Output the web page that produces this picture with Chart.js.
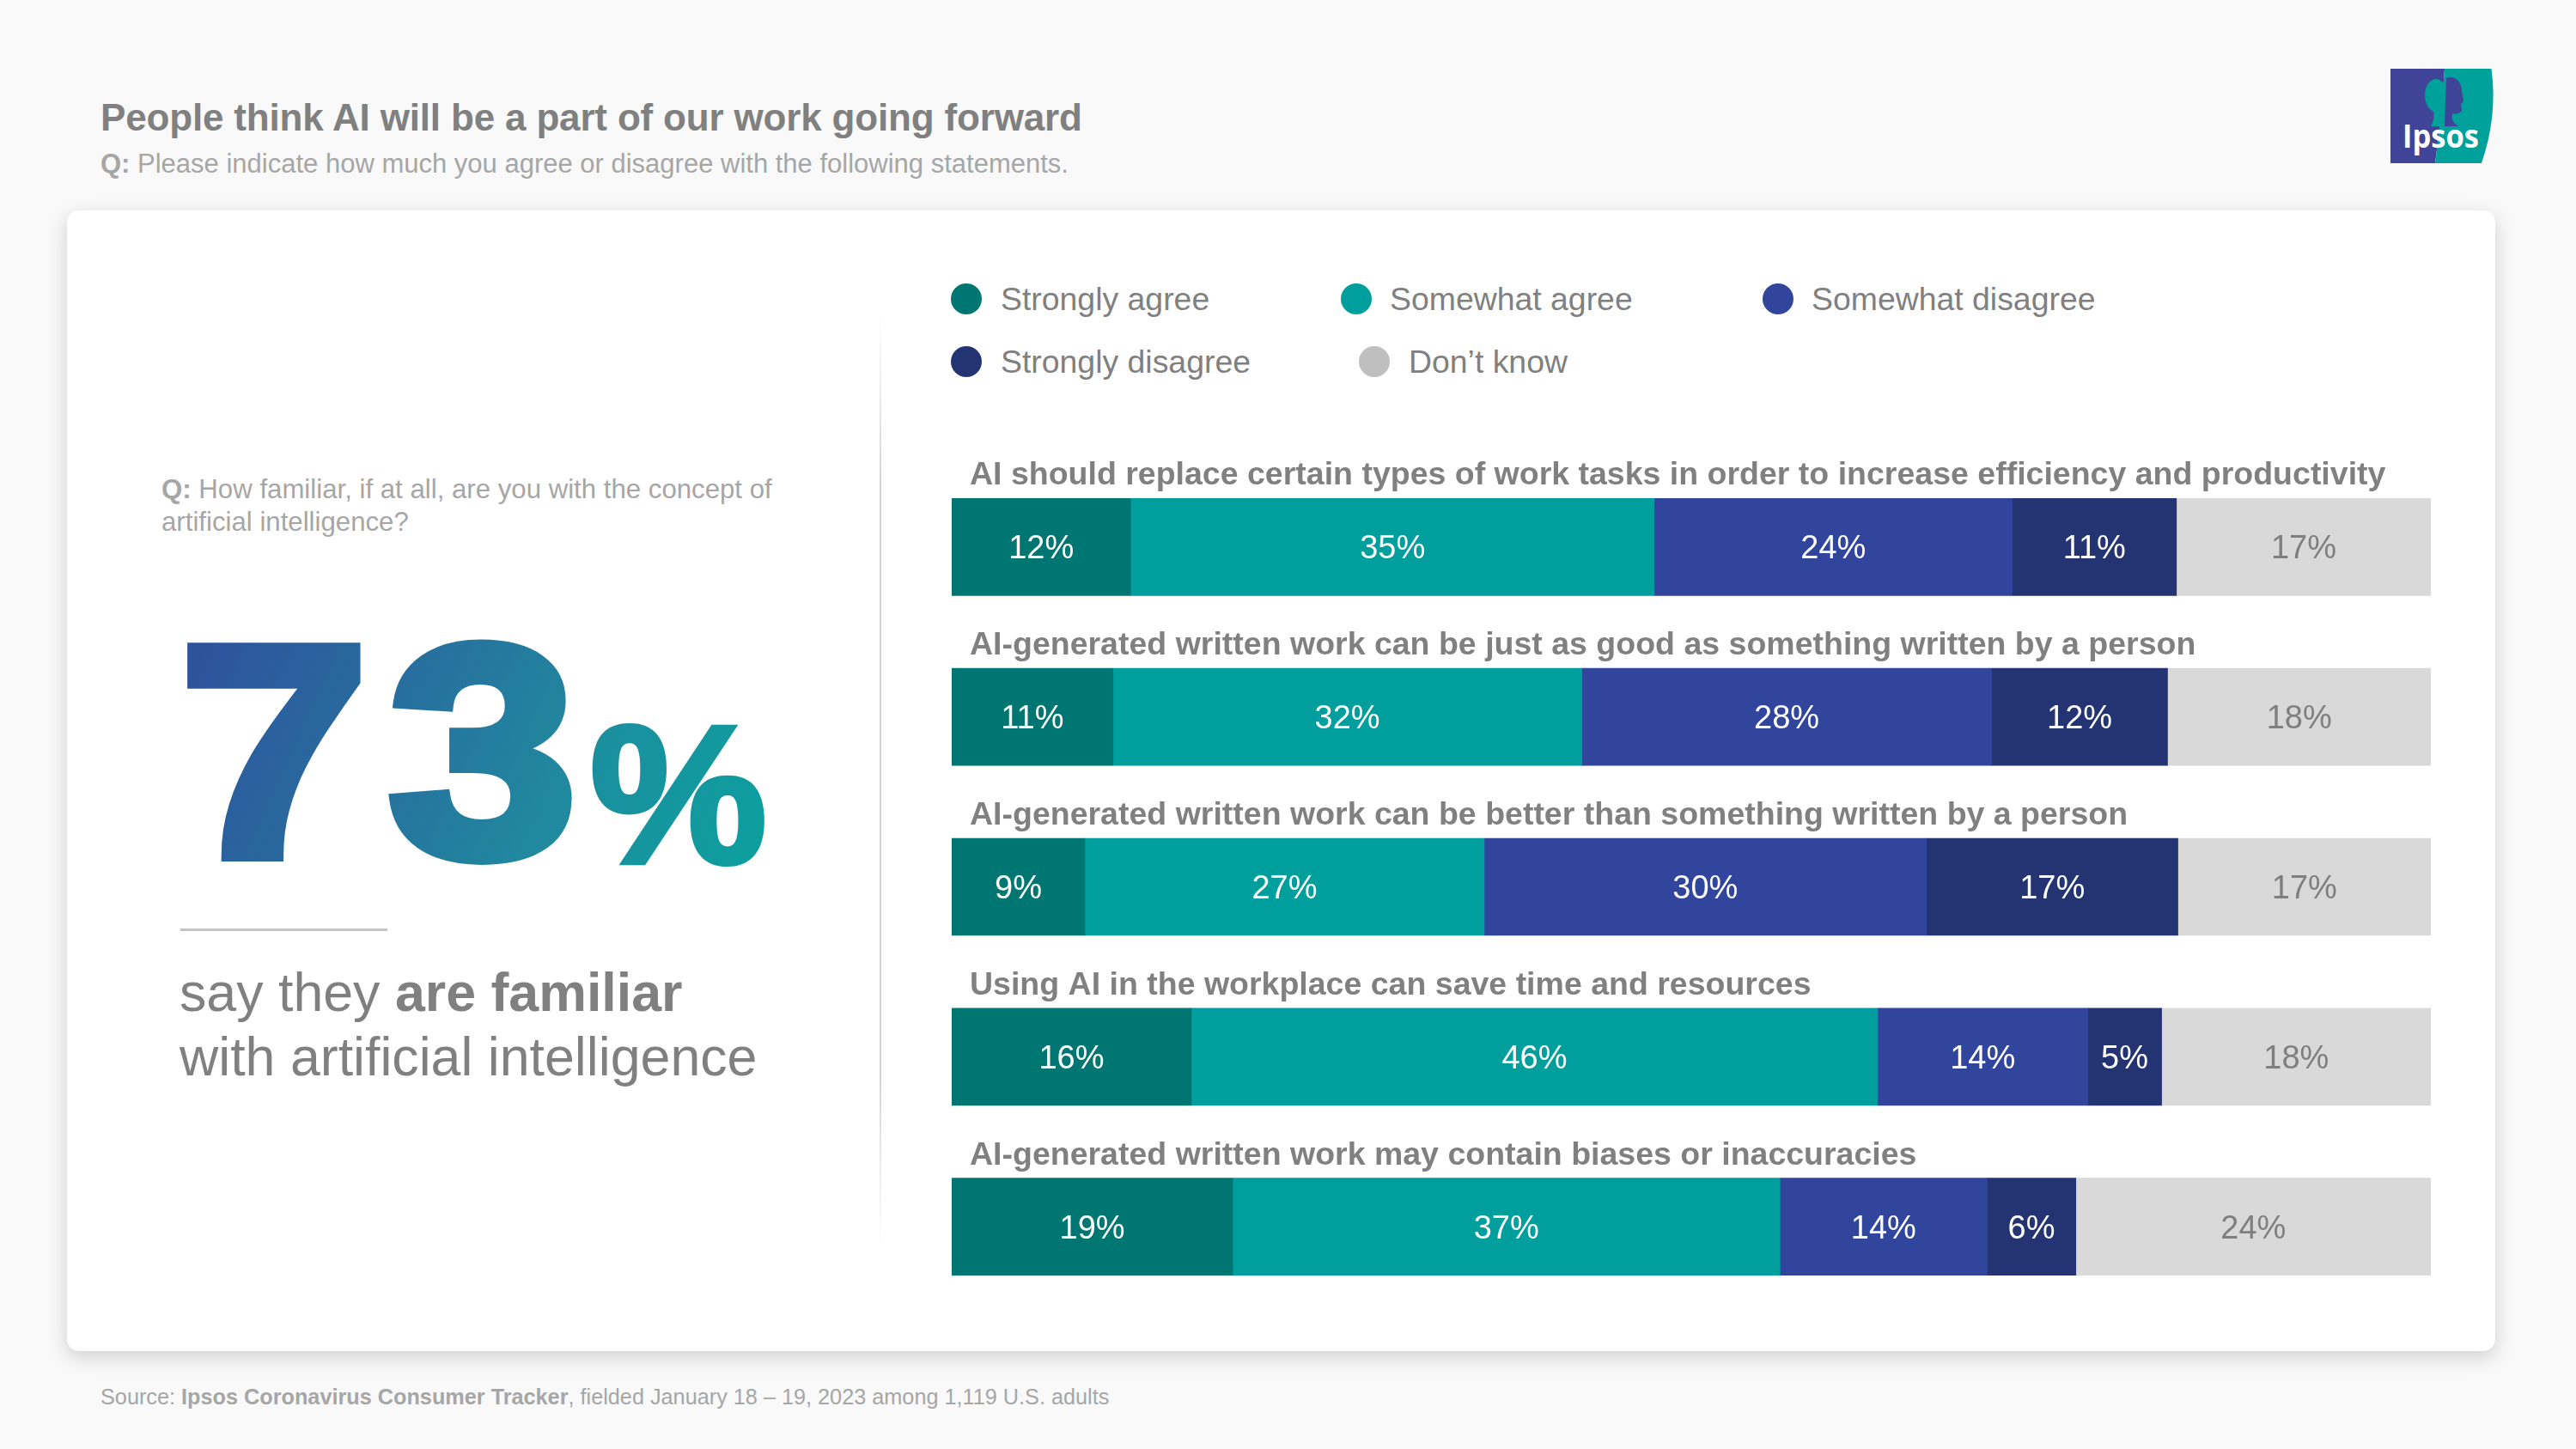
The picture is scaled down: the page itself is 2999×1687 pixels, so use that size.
<!DOCTYPE html>
<html><head><meta charset="utf-8">
<script src="https://cdn.jsdelivr.net/npm/chart.js@4"></script>
<style>
html,body{margin:0;padding:0;background:#F9F9F9;width:2999px;height:1687px;overflow:hidden;font-family:"Liberation Sans",Arial,sans-serif}
.t{position:absolute;white-space:nowrap;line-height:1}
#card{position:absolute;left:78px;top:245px;width:2827px;height:1328px;background:#fff;border-radius:14px;box-shadow:0 7px 22px rgba(0,0,0,.17)}
#divider{position:absolute;left:1024px;top:365px;width:2px;height:1085px;background:linear-gradient(to bottom,rgba(200,200,200,0),#d4d4d4 18%,#d4d4d4 82%,rgba(200,200,200,0))}
#rule{position:absolute;left:210px;top:1081px;width:241px;height:3px;background:#C4C4C4}
svg{position:absolute;left:0;top:0}
.lg{position:absolute;width:36px;height:36px;border-radius:50%}
#wrap{position:absolute;left:1108px;top:500px;width:1722px;height:1030px}
</style></head><body>
<div id="card"></div><div id="divider"></div><div id="rule"></div>
<div class="t" style="left:117px;top:115px;font-size:44px;font-weight:700;color:#808080;letter-spacing:-.17px">People think AI will be a part of our work going forward</div>
<div class="t" style="left:117px;top:175px;font-size:31px;color:#A6A6A6"><b>Q:</b> Please indicate how much you agree or disagree with the following statements.</div>
<div class="t" style="left:188px;top:551px;font-size:31.2px;color:#A6A6A6;line-height:38px"><b>Q:</b> How familiar, if at all, are you with the concept of<br>artificial intelligence?</div>
<div class="t" style="left:209px;top:1118px;font-size:62.7px;color:#808080;line-height:75px">say they <b>are familiar</b><br>with artificial intelligence</div>
<div class="t" style="left:117px;top:1614px;font-size:25.25px;color:#A6A6A6">Source: <b>Ipsos Coronavirus Consumer Tracker</b>, fielded January 18 – 19, 2023 among 1,119 U.S. adults</div>
<svg width="2999" height="1687" xmlns="http://www.w3.org/2000/svg">
<defs><linearGradient id="g" gradientUnits="userSpaceOnUse" x1="215" y1="745" x2="880" y2="1015"><stop offset="0" stop-color="#2E539D"/><stop offset=".55" stop-color="#21889F"/><stop offset="1" stop-color="#0D9F9E"/></linearGradient></defs>
<g font-family="Liberation Sans" font-weight="700" fill="url(#g)" stroke="url(#g)" stroke-linejoin="miter">
<text transform="scale(1.13,1)" x="185 400" y="996" font-size="350" stroke-width="14">73</text>
<text x="687" y="1004" font-size="228" stroke-width="6" textLength="206" lengthAdjust="spacingAndGlyphs">%</text>
</g>
<path d="M2783 80H2846Q2842 140 2835 190H2783Z" fill="#3F4499"/>
<path d="M2846 80H2900.5Q2908 135 2889 190H2835Q2842 140 2846 80Z" fill="#00A09B"/>
<ellipse cx="2836" cy="111" rx="13" ry="19" fill="#00A09B"/>
<path d="M2833 128H2845L2846 147H2830Q2835 138 2833 128Z" fill="#00A09B"/>
<path d="M2848 91C2858 87 2866 95 2866 106L2868 118L2865 121L2866 129Q2862 134 2855 132Q2853 142 2862 147H2846Z" fill="#3F4499"/>
<text x="2797" y="172" font-family="Open Sans" font-weight="700" font-size="37" fill="#fff" textLength="89" lengthAdjust="spacingAndGlyphs">Ipsos</text>
</svg>
<div id="legend"></div>
<div id="wrap"><canvas id="c" width="1722" height="1030" style="width:1722px;height:1030px"></canvas></div>
<script>
const categories = [
  "AI should replace certain types of work tasks in order to increase efficiency and productivity",
  "AI-generated written work can be just as good as something written by a person",
  "AI-generated written work can be better than something written by a person",
  "Using AI in the workplace can save time and resources",
  "AI-generated written work may contain biases or inaccuracies"
];
const stronglyAgree    = [12.1, 10.9,  9.0, 16.2, 19.0];
const somewhatAgree    = [35.4, 31.7, 27.0, 46.4, 37.0];
const somewhatDisagree = [24.2, 27.7, 29.9, 14.2, 14.0];
const stronglyDisagree = [11.1, 11.9, 17.0,  5.0,  6.0];
const dontKnow         = [17.2, 17.8, 17.1, 18.2, 24.0];
const seriesNames = ["Strongly agree","Somewhat agree","Somewhat disagree","Strongly disagree","Don’t know"];
const seriesValues = [stronglyAgree, somewhatAgree, somewhatDisagree, stronglyDisagree, dontKnow];
const barColors = ["#007672","#009E9C","#30459B","#243473","#D9D9D9"];
const legendColors = ["#007672","#009E9C","#30459B","#243473","#BFBFBF"];
const labelColors = ["#fff","#fff","#fff","#fff","#7F7F7F"];

const legendSpots = [[1107,330,1165],[1561,330,1618],[2052,330,2109],[1107,403,1165],[1582,403,1640]];
const lg = document.getElementById('legend');
seriesNames.forEach((n,i)=>{
  const [cx,cy,tx] = legendSpots[i];
  const d = document.createElement('div'); d.className='lg';
  d.style.cssText += `left:${cx}px;top:${cy}px;background:${legendColors[i]}`;
  lg.appendChild(d);
  const t = document.createElement('div'); t.className='t'; t.textContent = n;
  t.style.cssText += `left:${tx}px;top:${cy}px;font-size:37.4px;color:#808080`;
  lg.appendChild(t);
});

const labelsPlugin = {
  id:'labels',
  afterDatasetsDraw(chart){
    const ctx = chart.ctx; ctx.save();
    ctx.font = '38px "Liberation Sans"'; ctx.textAlign='center'; ctx.textBaseline='middle';
    chart.data.datasets.forEach((ds,di)=>{
      chart.getDatasetMeta(di).data.forEach((bar,i)=>{
        ctx.fillStyle = labelColors[di];
        const cx = (bar.x + bar.base)/2;
        ctx.fillText(Math.round(ds.data[i])+'%', cx, bar.y+3);
      });
    });
    ctx.font = 'bold 37.5px "Liberation Sans"'; ctx.textAlign='left'; ctx.textBaseline='alphabetic'; ctx.fillStyle='#808080';
    const m0 = chart.getDatasetMeta(0).data;
    categories.forEach((c,i)=>ctx.fillText(c, 21, m0[i].y - 56.5 - 16));
    ctx.restore();
  }
};
new Chart(document.getElementById('c'),{
  type:'bar',
  data:{labels:categories,datasets:seriesNames.map((n,i)=>({label:n,data:seriesValues[i],backgroundColor:barColors[i],borderWidth:0,barThickness:113,stack:'s'}))},
  options:{
    indexAxis:'y',responsive:false,animation:false,devicePixelRatio:1,
    layout:{padding:{top:38,bottom:3,left:0,right:0}},
    plugins:{legend:{display:false},tooltip:{enabled:false}},
    scales:{
      x:{display:false,stacked:true,min:0,max:100},
      y:{display:false,stacked:true}
    }
  },
  plugins:[labelsPlugin]
});
</script>
</body></html>
